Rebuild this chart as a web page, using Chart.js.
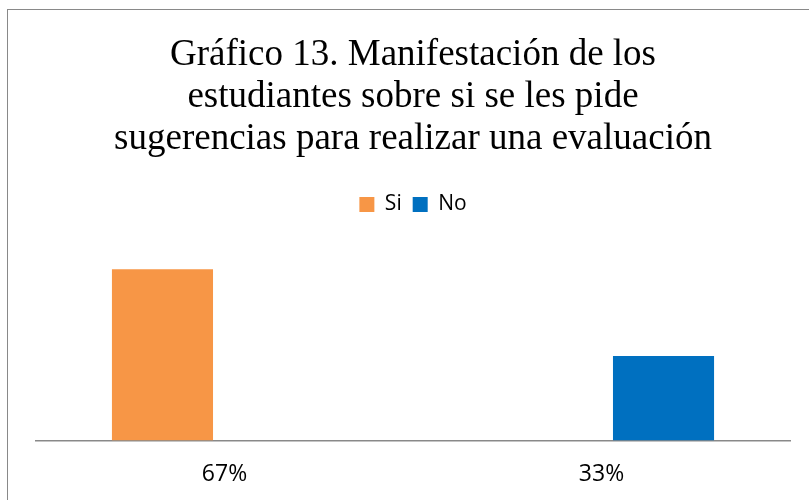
<!DOCTYPE html>
<html>
<head>
<meta charset="utf-8">
<script src="https://cdn.jsdelivr.net/npm/chart.js@4.4.0/dist/chart.umd.min.js"></script>
<style>
    html, body { margin: 0; padding: 0; background: #fff; overflow: hidden; }
    body { width: 809px; height: 500px; position: relative; }
    #frame {
        position: absolute; left: 7px; top: 9px;
        width: 900px; height: 600px;
        border: 1px solid #898989;
    }
    #wrap { position: absolute; left: 7px; top: 0; width: 812px; height: 520px; }
</style>
</head>
<body>
<div id="frame"></div>
<div id="wrap"><canvas id="grafico"></canvas></div>
<script>
    // datos del gráfico
    const categorias = ['67%', '33%'];
    const valoresSi = [67, null];
    const valoresNo = [null, 33];
    const tituloLineas = [
        'Gráfico 13. Manifestación de los',
        'estudiantes sobre si se les pide',
        'sugerencias para realizar una evaluación'
    ];

    // espacio extra debajo de la leyenda
    const legendGap = {
        id: 'legendGap',
        beforeInit(chart) {
            const fitOriginal = chart.legend.fit;
            chart.legend.fit = function () {
                fitOriginal.bind(chart.legend)();
                this.height += 11;
            };
        }
    };

    const ctx = document.getElementById('grafico').getContext('2d');
    new Chart(ctx, {
        type: 'bar',
        data: {
            labels: categorias,
            datasets: [
                {
                    label: 'Si',
                    data: valoresSi,
                    backgroundColor: '#F79646',
                    categoryPercentage: 0.658,
                    barPercentage: 0.815
                },
                {
                    label: 'No',
                    data: valoresNo,
                    backgroundColor: '#0070C0',
                    categoryPercentage: 0.658,
                    barPercentage: 0.815
                }
            ]
        },
        options: {
            responsive: true,
            maintainAspectRatio: false,
            animation: false,
            layout: { padding: { left: 29, right: 29, top: 0, bottom: 12 } },
            plugins: {
                title: {
                    display: true,
                    text: tituloLineas,
                    color: '#000',
                    font: { family: '"Liberation Serif", "Times New Roman", serif', size: 37, weight: 'normal', lineHeight: 1.135 },
                    padding: { top: 34, bottom: 23 }
                },
                legend: {
                    display: true,
                    labels: {
                        color: '#000',
                        boxWidth: 15,
                        boxHeight: 15,
                        padding: 11,
                        font: { family: '"Open Sans", "Noto Sans", sans-serif', size: 21 }
                    }
                },
                tooltip: { enabled: false }
            },
            scales: {
                x: {
                    grid: { display: false, drawTicks: false },
                    border: { display: true, color: '#898989', width: 1.5 },
                    ticks: {
                        color: '#000',
                        padding: 20,
                        font: { family: '"Open Sans", "Noto Sans", sans-serif', size: 23 }
                    }
                },
                y: {
                    display: false,
                    min: 0,
                    max: 80
                }
            }
        },
        plugins: [legendGap]
    });
</script>
</body>
</html>
